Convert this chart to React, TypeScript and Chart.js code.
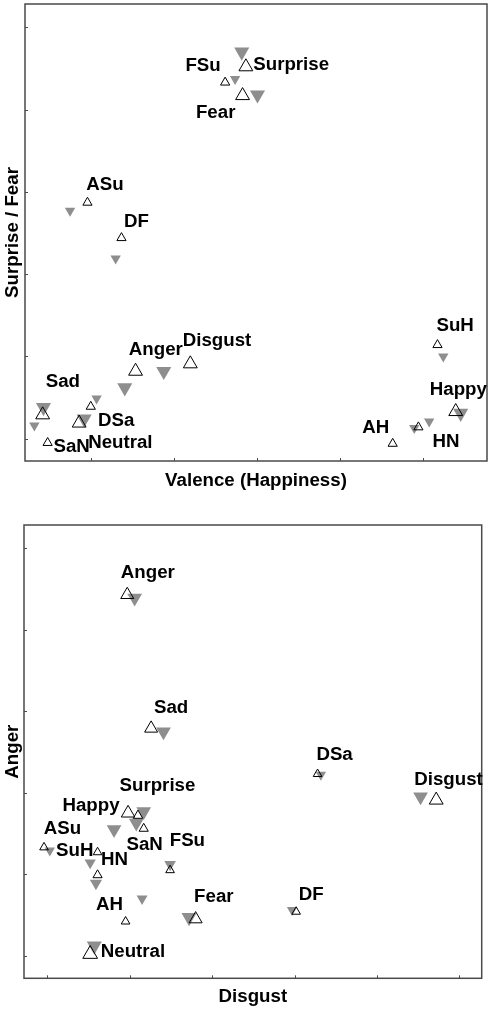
import React, { useEffect, useRef } from 'react';
import { Chart, registerables } from 'chart.js';

Chart.register(...registerables);

// ---------------- DATA ----------------
// Top panel: Valence (Happiness) vs Surprise / Fear
const topLabels = ['Surprise', 'FSu', 'Fear', 'ASu', 'DF', 'SuH', 'Disgust', 'Anger', 'Sad', 'SaN', 'DSa', 'Neutral', 'Happy', 'HN', 'AH'];
const topOpenX = [2.87, 2.62, 2.83, 0.96, 1.37, 5.18, 2.2, 1.54, 0.42, 0.48, 1.0, 0.86, 5.4, 4.95, 4.64];
const topOpenY = [5.52, 5.33, 5.17, 3.87, 3.44, 2.14, 1.91, 1.82, 1.29, 0.95, 1.39, 1.19, 1.33, 1.14, 0.94];
const topGrayX = [2.82, 2.74, 3.01, 0.75, 1.3, 5.25, 1.88, 1.41, 0.43, 0.32, 1.07, 0.92, 5.46, 4.9, 5.08];
const topGrayY = [5.7, 5.37, 5.18, 3.77, 3.19, 2.0, 1.82, 1.62, 1.38, 1.16, 1.49, 1.24, 1.31, 1.13, 1.21];
const topXTicks = [1, 2, 3, 4, 5];
const topYTicks = [1, 2, 3, 4, 5, 6];

// Bottom panel: Disgust vs Anger
const botLabels = ['Anger', 'Sad', 'DSa', 'Disgust', 'Happy', 'Surprise', 'SaN', 'ASu', 'SuH', 'HN', 'FSu', 'AH', 'Fear', 'DF', 'Neutral'];
const botOpenX = [1.97, 2.26, 4.28, 5.72, 1.98, 2.1, 2.17, 0.96, 1.61, 1.61, 2.49, 1.95, 2.8, 4.02, 1.52];
const botOpenY = [5.43, 3.79, 3.23, 2.91, 2.75, 2.72, 2.56, 2.33, 2.27, 1.99, 2.05, 1.42, 1.45, 1.54, 1.02];
const botGrayX = [2.06, 2.41, 4.32, 5.53, 1.81, 2.17, 2.08, 1.03, 1.52, 1.59, 2.49, 2.15, 2.72, 3.97, 1.57];
const botGrayY = [5.39, 3.75, 3.22, 2.95, 2.55, 2.77, 2.63, 2.29, 2.14, 1.89, 2.12, 1.7, 1.47, 1.56, 1.12];
const botXTicks = [1, 2, 3, 4, 5, 6];
const botYTicks = [1, 2, 3, 4, 5, 6];

// ---------------- STYLE ----------------
const FONT = '"Liberation Sans", Arial, Helvetica, sans-serif';
const FONT_SIZE = 18.7;
const GRAY = '#8e8e8e';
const FRAME = '#4a4a4a';

const topOpenRadius = [8, 5.3, 8, 5.3, 5.3, 5.3, 8, 8, 8, 5.3, 5.3, 8, 8, 5.3, 5.3];
const topGrayRadius = [8.7, 6, 8.7, 6, 6, 6, 8.7, 8.7, 8.7, 6, 6, 8.7, 8.7, 6, 6];
const topLabelOffset: [number, number][] = [
  [45.3, -1.5], [-22.1, -16.8], [-26.9, 17.4], [17.5, -18.1], [15, -15.6], [17.7, -18.6],
  [26.7, -22.5], [20.3, -21.5], [20.2, -33], [24, 3.9], [25.5, 14.4], [41.2, 19.8],
  [2.6, -21.2], [27.5, 14.4], [-16.9, -15.7],
];

const botOpenRadius = [7.5, 7.5, 5, 8, 7.8, 5.5, 5.3, 5, 5, 5.3, 5, 5, 7.5, 5, 8.5];
const botGrayRadius = [8.5, 8.5, 6, 8.5, 8.5, 8.5, 8.5, 6, 6.5, 7, 6.7, 6.3, 8.7, 6, 8.7];
const botLabelOffset: [number, number][] = [
  [20.6, -22], [20, -20.9], [17, -19], [12.3, -20.6], [-37.1, -7], [19.5, -29.5],
  [0.9, 16.7], [18.5, -18.7], [-22.8, -1.3], [17, -15.7], [17.3, -29.3], [-16.2, -16.3],
  [18.2, -22], [15, -16.5], [42.8, -2.3],
];

type Panel = {
  width: number;
  height: number;
  labels: string[];
  openX: number[];
  openY: number[];
  grayX: number[];
  grayY: number[];
  openR: number[];
  grayR: number[];
  offsets: [number, number][];
  xTicks: number[];
  yTicks: number[];
  xRange: [number, number];
  yRange: [number, number];
  xTitle: string;
  yTitle: string;
  padding: { left: number; top: number; right: number; bottom: number };
  xTitlePad: { top: number; bottom: number };
  yTitlePad: { top: number; bottom: number };
};

const topPanel: Panel = {
  width: 490,
  height: 500,
  labels: topLabels,
  openX: topOpenX,
  openY: topOpenY,
  grayX: topGrayX,
  grayY: topGrayY,
  openR: topOpenRadius,
  grayR: topGrayRadius,
  offsets: topLabelOffset,
  xTicks: topXTicks,
  yTicks: topYTicks,
  xRange: [0.207, 5.777],
  yRange: [0.729, 6.283],
  xTitle: 'Valence (Happiness)',
  yTitle: 'Surprise / Fear',
  padding: { left: 0, top: 4, right: 3, bottom: 0 },
  xTitlePad: { top: 8.28, bottom: 8.28 },
  yTitlePad: { top: 1.28, bottom: 1.28 },
};

const botPanel: Panel = {
  width: 490,
  height: 509,
  labels: botLabels,
  openX: botOpenX,
  openY: botOpenY,
  grayX: botGrayX,
  grayY: botGrayY,
  openR: botOpenRadius,
  grayR: botGrayRadius,
  offsets: botLabelOffset,
  xTicks: botXTicks,
  yTicks: botYTicks,
  xRange: [0.717, 6.272],
  yRange: [0.723, 6.286],
  xTitle: 'Disgust',
  yTitle: 'Anger',
  padding: { left: 0, top: 25, right: 8.3, bottom: 0 },
  xTitlePad: { top: 7.48, bottom: 0.78 },
  yTitlePad: { top: 1.28, bottom: 0.28 },
};

function buildConfig(p: Panel): any {
  const framePlugin = {
    id: 'frameTicks',
    beforeDatasetsDraw(chart: any) {
      const { ctx, chartArea } = chart;
      const xs = chart.scales.x;
      const ys = chart.scales.y;
      ctx.save();
      ctx.strokeStyle = FRAME;
      ctx.lineWidth = 1.5;
      ctx.strokeRect(chartArea.left, chartArea.top, chartArea.right - chartArea.left, chartArea.bottom - chartArea.top);
      ctx.lineWidth = 1;
      ctx.beginPath();
      p.xTicks.forEach((v) => {
        const x = Math.round(xs.getPixelForValue(v)) + 0.5;
        ctx.moveTo(x, chartArea.bottom);
        ctx.lineTo(x, chartArea.bottom - 3);
      });
      p.yTicks.forEach((v) => {
        const y = Math.round(ys.getPixelForValue(v)) + 0.5;
        ctx.moveTo(chartArea.left, y);
        ctx.lineTo(chartArea.left + 3, y);
      });
      ctx.stroke();
      ctx.restore();
    },
  };

  const labelPlugin = {
    id: 'pointLabels',
    afterDatasetsDraw(chart: any) {
      const { ctx } = chart;
      const xs = chart.scales.x;
      const ys = chart.scales.y;
      ctx.save();
      ctx.font = `bold ${FONT_SIZE}px ${FONT}`;
      ctx.fillStyle = '#000';
      ctx.textAlign = 'center';
      ctx.textBaseline = 'middle';
      p.labels.forEach((label, i) => {
        const px = xs.getPixelForValue(p.openX[i]) + p.offsets[i][0];
        const py = ys.getPixelForValue(p.openY[i]) + p.offsets[i][1];
        ctx.fillText(label, px, py);
      });
      ctx.restore();
    },
  };

  const titleFont = { family: FONT, size: FONT_SIZE, weight: 'bold' as const };

  return {
    type: 'scatter',
    data: {
      datasets: [
        {
          label: 'open',
          data: p.openX.map((x, i) => ({ x, y: p.openY[i] })),
          pointStyle: 'triangle',
          pointRadius: p.openR,
          pointHoverRadius: p.openR,
          pointBackgroundColor: 'rgba(255,255,255,0)',
          pointBorderColor: '#000',
          pointBorderWidth: 1,
          clip: false,
        },
        {
          label: 'gray',
          data: p.grayX.map((x, i) => ({ x, y: p.grayY[i] })),
          pointStyle: 'triangle',
          pointRotation: 180,
          pointRadius: p.grayR,
          pointHoverRadius: p.grayR,
          pointBackgroundColor: GRAY,
          pointBorderColor: GRAY,
          pointBorderWidth: 0,
          clip: false,
        },
      ],
    },
    options: {
      responsive: false,
      animation: false,
      events: [],
      layout: { padding: p.padding, autoPadding: false },
      plugins: {
        legend: { display: false },
        tooltip: { enabled: false },
      },
      scales: {
        x: {
          type: 'linear',
          position: 'bottom',
          min: p.xRange[0],
          max: p.xRange[1],
          ticks: { display: false, stepSize: 1 },
          grid: { display: false, drawTicks: false },
          border: { display: false },
          title: {
            display: true,
            text: p.xTitle,
            color: '#000',
            font: titleFont,
            padding: p.xTitlePad,
          },
        },
        y: {
          type: 'linear',
          position: 'left',
          min: p.yRange[0],
          max: p.yRange[1],
          ticks: { display: false, stepSize: 1 },
          grid: { display: false, drawTicks: false },
          border: { display: false },
          title: {
            display: true,
            text: p.yTitle,
            color: '#000',
            font: titleFont,
            padding: p.yTitlePad,
          },
        },
      },
    },
    plugins: [framePlugin, labelPlugin],
  };
}

function ScatterPanel({ panel }: { panel: Panel }) {
  const ref = useRef<HTMLCanvasElement | null>(null);
  useEffect(() => {
    if (!ref.current) return;
    const chart = new Chart(ref.current, buildConfig(panel));
    return () => chart.destroy();
  }, [panel]);
  return (
    <canvas
      ref={ref}
      width={panel.width}
      height={panel.height}
      style={{ display: 'block', width: panel.width, height: panel.height }}
    />
  );
}

export default function App() {
  return (
    <div style={{ position: 'absolute', left: 0, top: 0, width: 490, height: 1009, background: '#fff' }}>
      <ScatterPanel panel={topPanel} />
      <ScatterPanel panel={botPanel} />
    </div>
  );
}
